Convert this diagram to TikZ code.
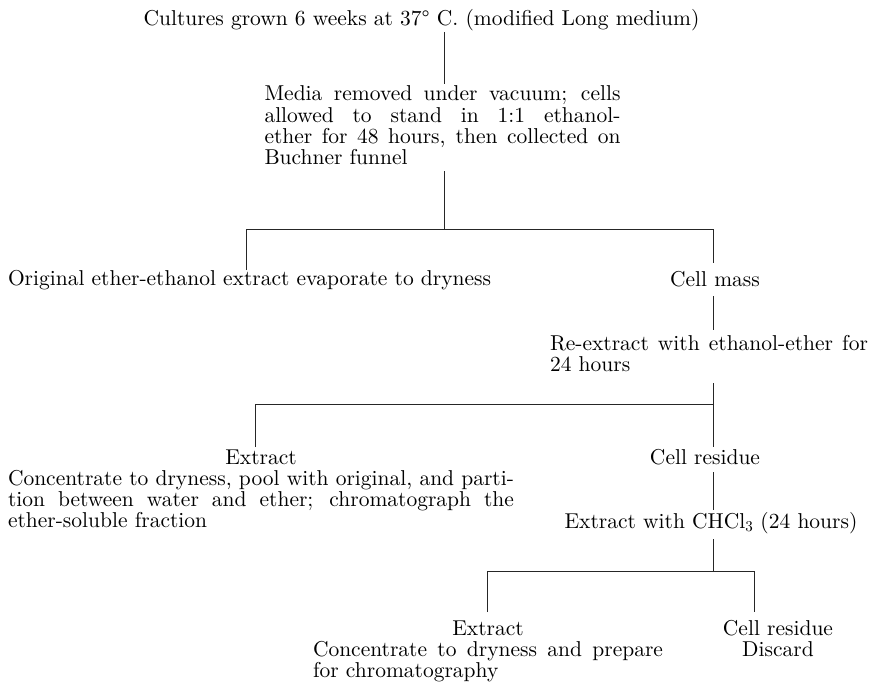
\documentclass[tikz,border=0pt]{standalone}
\usepackage{fontspec}
\setmainfont{lmroman10-regular.otf}
\begin{document}
\begin{tikzpicture}[x=1bp,y=-1bp,
  lbl/.style={inner sep=0pt,outer sep=0pt,font=\fontsize{21.5bp}{21.3bp}\selectfont},
  para/.style={lbl,align=justify},
  conn/.style={line width=0.9bp,black!85}]
\useasboundingbox (0,0) rectangle (883,682);
% texts
\node[lbl,anchor=base] (title) at (421.5,26) {Cultures grown 6 weeks at 37° C. (modified Long medium)};
\node[para,text width=356bp,anchor=base west] (media) at (264.5,101)
  {Media removed under vacuum; cells\linebreak allowed to stand in 1:1 ethanol-\linebreak ether for 48 hours, then collected on\linebreak Buchner funnel};
\node[lbl,anchor=base west] (orig) at (8,285) {Original ether-ethanol extract evaporate to dryness};
\node[lbl,anchor=base] (cellmass) at (715,286) {Cell mass};
\node[para,text width=318bp,anchor=base west] (reext) at (550,350)
  {Re-extract with ethanol-ether for\linebreak 24 hours};
\node[para,text width=506bp,anchor=base west] (extract1) at (8,464)
  {{\centering Extract\par}Concentrate to dryness, pool with original, and parti-\linebreak tion between water and ether; chromatograph the\linebreak ether-soluble fraction};
\node[lbl,anchor=base] (residue1) at (705,464) {Cell residue};
\node[lbl,anchor=base] (chcl) at (711,528) {Extract with CHCl\textsubscript{3} (24 hours)};
\node[para,text width=350bp,anchor=base west] (extract2) at (313,635)
  {{\centering Extract\par}Concentrate to dryness and prepare\linebreak for chromatography};
\node[lbl,text width=130bp,align=center,anchor=base] (residue2) at (778,635)
  {Cell residue\\Discard};
% junction coordinates
\coordinate (a1) at (444,32);  \coordinate (a2) at (444,84);
\coordinate (b1) at (444,171); \coordinate (b2) at (444,229);
\coordinate (hL1) at (246,229); \coordinate (hR1) at (713,229);
\coordinate (eL1) at (246,270); \coordinate (eR1) at (713,263);
\coordinate (c1) at (713,296); \coordinate (c2) at (713,330);
\coordinate (d1) at (713,383); \coordinate (d2) at (713,404);
\coordinate (hL2) at (255,404);
\coordinate (eL2) at (255,447); \coordinate (eR2) at (713,447);
\coordinate (f1) at (713,472); \coordinate (f2) at (713,510);
\coordinate (g1) at (713,539); \coordinate (g2) at (713,571);
\coordinate (hL3) at (487,571); \coordinate (hR3) at (754,571);
\coordinate (eL3) at (487,612); \coordinate (eR3) at (754,612);
% connectors
\draw[conn] (a1) -- (a2);
\draw[conn] (b1) -- (b2);
\draw[conn] (eL1) -- (hL1) -- (hR1) -- (eR1);
\draw[conn] (c1) -- (c2);
\draw[conn] (d1) -- (d2);
\draw[conn] (eL2) -- (hL2) -- (d2) -- (eR2);
\draw[conn] (f1) -- (f2);
\draw[conn] (g1) -- (g2);
\draw[conn] (eL3) -- (hL3) -- (hR3) -- (eR3);
\end{tikzpicture}
\end{document}
